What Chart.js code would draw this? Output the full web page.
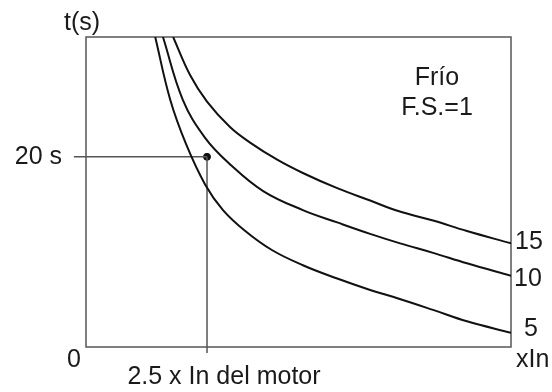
<!DOCTYPE html>
<html>
<head>
<meta charset="utf-8">
<script src="https://cdn.jsdelivr.net/npm/chart.js@4/dist/chart.umd.min.js"></script>
<style>
  html, body { margin: 0; padding: 0; background: #fff; }
  #wrap { width: 552px; height: 392px; }
</style>
</head>
<body>
<div id="wrap"><canvas id="chart" width="552" height="392"></canvas></div>
<script>
// curves t(s) vs x In
const curve5X = [1.43, 1.74, 2.07, 2.46, 2.83, 3.29, 3.84, 4.48, 5.19, 5.87, 6.45, 7.17, 7.87, 8.78];
const curve5Y = [32.6, 26.0, 21.3, 17.1, 14.4, 12.2, 10.2, 8.6, 7.2, 6.0, 5.1, 3.9, 2.7, 1.5];
const curve10X = [1.59, 2.00, 2.46, 2.98, 3.66, 4.48, 5.19, 5.87, 6.49, 7.17, 7.87, 8.78];
const curve10Y = [32.6, 26.0, 22.0, 19.2, 16.4, 14.4, 13.1, 11.9, 10.9, 9.9, 8.8, 7.5];
const curve15X = [1.80, 2.15, 2.50, 2.98, 3.39, 3.95, 4.48, 5.19, 5.87, 6.45, 7.17, 7.87, 8.78];
const curve15Y = [32.6, 28.6, 25.8, 23.1, 21.5, 19.7, 18.3, 16.7, 15.4, 14.3, 13.3, 12.2, 10.9];
const curveLabels = ['5', '10', '15'];

// operating point and axis text
const pointX = 2.5;
const pointY = 20;
const guideStartX = -0.25;
const guideEndY = -0.63;
const axisMaxX = 8.78;
const axisMaxY = 32.6;
const yTitle = 't(s)';
const yMark = '20 s';
const originLabel = '0';
const xTitle = 'xIn';
const xMark = '2.5 x In del motor';
const noteLines = ['Frío', 'F.S.=1'];

const toPoints = (xs, ys) => xs.map((x, i) => ({ x, y: ys[i] }));

const curveStyle = {
    showLine: true,
    borderColor: '#111',
    borderWidth: 2,
    pointRadius: 0,
    tension: 0.4,
};

const FONT = '25px "Liberation Sans", Arial, sans-serif';
const TEXT = '#1a1a1a';

// frame and text labels
const annotations = {
    id: 'annotations',
    beforeDatasetsDraw(chart) {
        const { ctx, chartArea: a } = chart;
        ctx.save();
        ctx.strokeStyle = '#555';
        ctx.lineWidth = 1.5;
        ctx.strokeRect(a.left, a.top, a.right - a.left, a.bottom - a.top);
        ctx.restore();
    },
    afterDraw(chart) {
        const { ctx, chartArea: a, scales: { x, y } } = chart;
        ctx.save();
        ctx.fillStyle = TEXT;
        ctx.font = FONT;
        ctx.textBaseline = 'middle';

        ctx.textAlign = 'center';
        ctx.fillText(yTitle, 82, 23);
        ctx.fillText(originLabel, 74, 360);
        ctx.fillText(xMark, 224, 377);
        ctx.fillText(noteLines[0], 437, 78);
        ctx.fillText(noteLines[1], 437, 108);

        ctx.textAlign = 'right';
        ctx.fillText(yMark, 62, y.getPixelForValue(pointY));

        ctx.textAlign = 'left';
        const ends = [curve5Y, curve10Y, curve15Y].map(s => y.getPixelForValue(s[s.length - 1]));
        ctx.fillText(curveLabels[2], a.right + 4, ends[2] - 1);
        ctx.fillText(curveLabels[1], a.right + 3, ends[1] + 3);
        ctx.fillText(curveLabels[0], a.right + 13, ends[0] - 4);
        ctx.fillText(xTitle, a.right + 5, 360);
        ctx.restore();
    }
};

new Chart(document.getElementById('chart'), {
    type: 'scatter',
    data: {
        datasets: [
            { ...curveStyle, data: toPoints(curve5X, curve5Y) },
            { ...curveStyle, data: toPoints(curve10X, curve10Y) },
            { ...curveStyle, data: toPoints(curve15X, curve15Y) },
            {
                data: [{ x: guideStartX, y: pointY }, { x: pointX, y: pointY }],
                showLine: true, borderColor: '#555', borderWidth: 1.5, pointRadius: 0, clip: false,
            },
            {
                data: [{ x: pointX, y: pointY }, { x: pointX, y: guideEndY }],
                showLine: true, borderColor: '#555', borderWidth: 1.5, pointRadius: 0, clip: false,
            },
            {
                data: [{ x: pointX, y: pointY }],
                pointRadius: 3.5, pointBackgroundColor: '#111', pointBorderColor: '#111', clip: false,
            },
        ],
    },
    options: {
        responsive: false,
        animation: false,
        layout: { padding: { left: 86, right: 41, top: 37, bottom: 45 } },
        plugins: { legend: { display: false }, tooltip: { enabled: false } },
        scales: {
            x: { type: 'linear', min: 0, max: axisMaxX, display: false },
            y: { type: 'linear', min: 0, max: axisMaxY, display: false },
        },
    },
    plugins: [annotations],
});
</script>
</body>
</html>
